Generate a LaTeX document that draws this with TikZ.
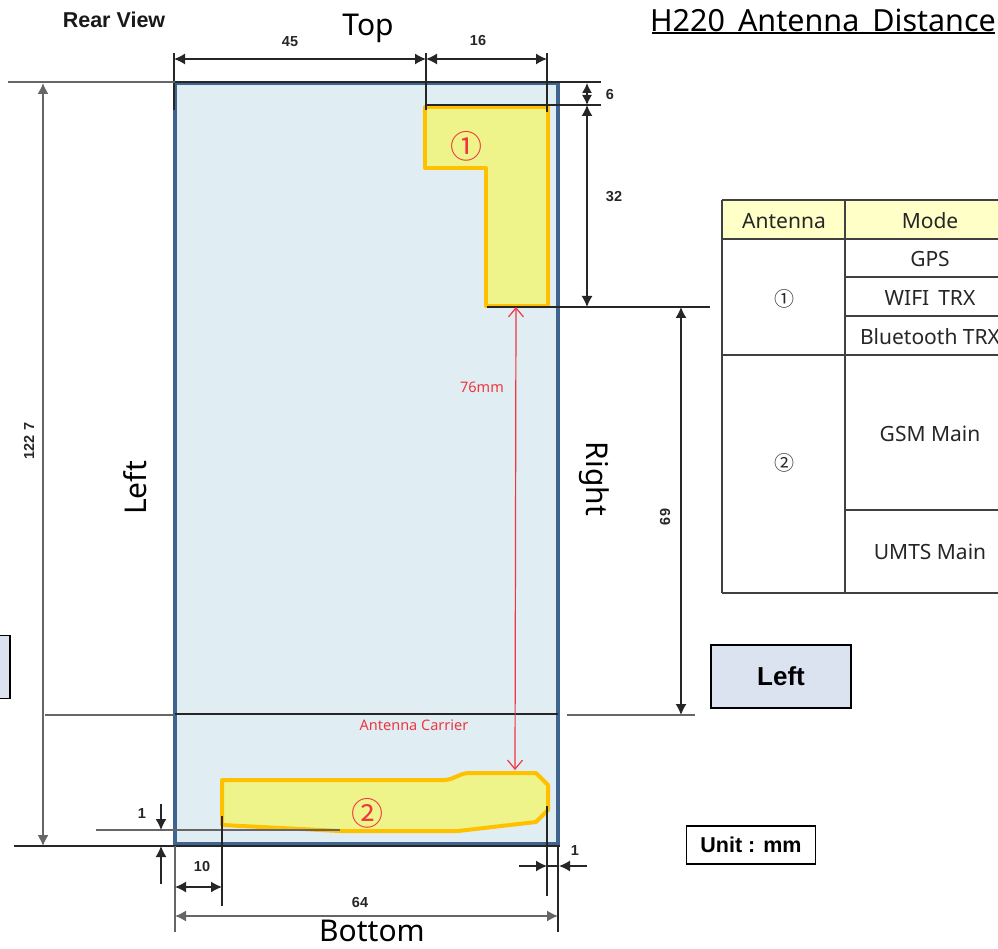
\documentclass[tikz,border=0pt]{standalone}
\usepackage{fontspec}
\setmainfont{Noto Sans}
\newfontfamily\krfont{Noto Sans CJK KR}
\newfontfamily\boldfont{Liberation Sans}[BoldFont={Liberation Sans Bold}]
\usetikzlibrary{arrows.meta}
\definecolor{bodyfill}{HTML}{E0EEF4}
\definecolor{bodyline}{HTML}{3F6490}
\definecolor{antfill}{HTML}{EEF48A}
\definecolor{antline}{HTML}{FFC000}
\definecolor{redtxt}{HTML}{F0353F}
\definecolor{headfill}{HTML}{FFFFC8}
\definecolor{boxfill}{HTML}{DCE3F0}
\tikzset{
  x=1pt,y=-1pt,
  dimline/.style={draw=black!85,line width=1.3pt,{Latex[length=11pt,width=11pt]}-{Latex[length=11pt,width=11pt]}},
  shortdim/.style={draw=black!85,line width=1.3pt,{Latex[length=10pt,width=10pt]}-{Latex[length=10pt,width=10pt]}},
  greydim/.style={draw=black!60,line width=1.6pt,{Latex[length=11pt,width=11pt]}-{Latex[length=11pt,width=11pt]}},
  onearrow/.style={draw=black!85,line width=1.3pt,-{Latex[length=11pt,width=11pt]}},
  extline/.style={draw=black!85,line width=1.3pt},
  greyline/.style={draw=black!60,line width=1.6pt},
  redarrow/.style={draw=redtxt,line width=1.2pt,{Straight Barb[length=9pt,width=15pt]}-{Straight Barb[length=9pt,width=15pt]}},
  bodyshape/.style={draw=bodyline,fill=bodyfill,line width=4pt},
  antshape/.style={draw=antline,fill=antfill,line width=4pt,line join=round},
  dimtxt/.style={font=\boldfont\bfseries\fontsize{14.5}{16}\selectfont,text=black!85,inner sep=0pt},
  sidetxt/.style={font=\fontsize{30}{32}\selectfont,text=black,inner sep=0pt},
  celltxt/.style={font=\fontsize{21}{24}\selectfont,text=black!85,inner sep=0pt},
  gridline/.style={draw=black!75,line width=1.5pt},
  redcirc/.style={font=\krfont\fontsize{32}{34}\selectfont,text=redtxt,inner sep=0pt},
  labelbox/.style={draw=black,line width=1.6pt,fill=boxfill,font=\boldfont\bfseries\fontsize{26}{28}\selectfont,inner sep=0pt},
}
\begin{document}
\begin{tikzpicture}
\useasboundingbox (0,0) rectangle (998,949);
\clip (0,0) rectangle (998,949);
% phone body
\draw[bodyshape] (175,83) rectangle (558,844);
% antennas
\draw[antshape] (425,107) -- (548,107) -- (548,306) -- (486,306) -- (486,168) -- (425,168) -- cycle;
\draw[antshape] (222,780) -- (445,780) .. controls (455,779) and (458,774) .. (468,773) -- (536,773) -- (548,785) -- (548,810) -- (536,822) -- (458,831) -- (340,831) -- (222,825) -- cycle;
% top dimensions
\draw[extline] (174,53) -- (174,110);
\draw[extline] (426,53) -- (426,110);
\draw[extline] (547,53) -- (547,112);
\draw[dimline] (174,59) -- (426,59);
\draw[dimline] (426,59) -- (547,59);
\node[dimtxt] (d45) at (290,42) {45};
\node[dimtxt] (d16) at (478,41) {16};
% right dimensions
\draw[extline] (175,82) -- (601,82);
\draw[greyline] (8,82) -- (175,82);
\draw[extline] (426,105) -- (601,105);
\draw[extline] (487,307) -- (710,307);
\draw[shortdim] (587,83) -- (587,105);
\draw[dimline] (587,105) -- (587,307);
\draw[dimline] (681,307) -- (681,715);
\node[dimtxt] (d6) at (610,95) {6};
\node[dimtxt] (d32) at (614,197) {32};
\node[dimtxt,rotate=-90] (d69) at (665,517) {69};
% carrier line
\draw[greyline] (45,715) -- (175,715);
\draw[extline] (175,714) -- (558,714);
\draw[greyline] (567,715) -- (695,715);
\draw[extline] (14,846) -- (560,846);
\draw[greydim] (43,83) -- (43,846);
\node[dimtxt,rotate=90] (d122) at (29,441) {122\,\,7};
% bottom left
\draw[greyline] (96,830) -- (340,830);
\draw[onearrow] (161,804) -- (161,830);
\draw[onearrow] (161,884) -- (161,846);
\node[dimtxt] (d1a) at (142,814) {1};
\draw[extline] (222,816) -- (222,906);
\draw[greyline] (175,846) -- (175,932);
\draw[dimline] (175,887) -- (222,887);
\draw[greydim] (175,916) -- (558,916);
\node[dimtxt] (d10) at (202,867) {10};
\node[dimtxt] (d64) at (360,903) {64};
% bottom right
\draw[extline] (547,806) -- (547,896);
\draw[extline] (558,846) -- (558,932);
\draw[extline] (547,866) -- (558,866);
\draw[onearrow] (519,866) -- (547,866);
\draw[onearrow] (587,866) -- (559,866);
\node[dimtxt] (d1b) at (575,851) {1};
% red
\coordinate (r1) at (516,307);
\coordinate (r2) at (515,770);
\draw[redarrow] (r1) -- (r2);
\node[font=\fontsize{14.5}{16}\selectfont,text=redtxt,fill=bodyfill,inner sep=1pt] (r76) at (482,387) {76mm};
\node[font=\fontsize{14.5}{16}\selectfont,text=redtxt,inner sep=0pt] (carrier) at (414,725) {Antenna Carrier};
\node[redcirc] (c1) at (466,146) {①};
\node[redcirc] (c2) at (367,813) {②};
% texts
\node[font=\boldfont\bfseries\fontsize{21.5}{24}\selectfont,text=black!90,inner sep=0pt] (rv) at (114,20) {Rear View};
\node[sidetxt] (top) at (368,28) {Top};
\node[sidetxt] (bottom) at (372,931) {Bottom};
\node[sidetxt,rotate=90] (left) at (135,488) {Left};
\node[sidetxt,rotate=-90] (right) at (594,479) {Right};
\node[font=\fontsize{30.5}{32}\selectfont,text=black,inner sep=0pt] (title) at (823,20) {H220\, Antenna\, Distance};
\draw[line width=1.4pt] (652,33) -- (995,33);
% table
\fill[headfill] (722,200) rectangle (1000,239);
\draw[gridline] (722,200) -- (1000,200);
\draw[gridline] (722,239) -- (1000,239);
\draw[gridline] (845,277) -- (1000,277);
\draw[gridline] (845,316) -- (1000,316);
\draw[gridline] (722,355) -- (1000,355);
\draw[gridline] (845,510) -- (1000,510);
\draw[gridline] (722,593) -- (1000,593);
\draw[gridline] (722,200) -- (722,593);
\draw[gridline] (845,200) -- (845,593);
\node[celltxt] (h1) at (784,221) {Antenna};
\node[celltxt] (h2) at (930,221) {Mode};
\node[celltxt] (m1) at (930,259) {GPS};
\node[celltxt] (m2) at (930,298) {WIFI\, TRX};
\node[celltxt] (m3) at (930,337) {Bluetooth TRX};
\node[celltxt] (m4) at (930,434) {GSM Main};
\node[celltxt] (m5) at (930,552) {UMTS Main};
\node[font=\krfont\fontsize{20}{22}\selectfont,text=black!85,inner sep=0pt] (t1) at (784,299) {①};
\node[font=\krfont\fontsize{20}{22}\selectfont,text=black!85,inner sep=0pt] (t2) at (784,463) {②};
% boxes
\node[labelbox,minimum width=140pt,minimum height=63pt] (lbox) at (781,676.5) {\raisebox{-3pt}{Left}};
\node[labelbox,minimum width=40pt,minimum height=63pt] (lcut) at (-10,667) {};
\node[draw=black,line width=1.6pt,fill=white,font=\boldfont\bfseries\fontsize{21.5}{24}\selectfont,minimum width=129pt,minimum height=38pt,inner sep=0pt] (unit) at (751,845) {Unit : mm};
\end{tikzpicture}
\end{document}
